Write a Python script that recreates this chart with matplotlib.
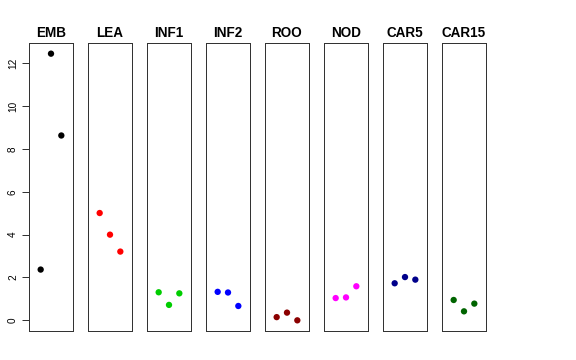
import matplotlib
matplotlib.use("Agg")
import matplotlib.pyplot as plt

plt.rcParams['font.family'] = ['Liberation Sans', 'DejaVu Sans']

groups = ['EMB', 'LEA', 'INF1', 'INF2', 'ROO', 'NOD', 'CAR5', 'CAR15']
colors = ['black', 'red', '#00CD00', 'blue', '#8B0000', '#FF00FF', '#00008B', '#006400']
values = {
    'EMB':   [2.37, 12.45, 8.63],
    'LEA':   [5.01, 4.00, 3.21],
    'INF1':  [1.31, 0.72, 1.26],
    'INF2':  [1.33, 1.30, 0.67],
    'ROO':   [0.15, 0.36, 0.0],
    'NOD':   [1.04, 1.07, 1.59],
    'CAR5':  [1.73, 2.02, 1.90],
    'CAR15': [0.95, 0.42, 0.78],
}
yticks = [0, 2, 4, 6, 8, 10, 12]

W, H = 576, 360
fig = plt.figure(figsize=(W / 72, H / 72), dpi=72)

all_vals = [v for g in groups for v in values[g]]
lo, hi = min(all_vals), max(all_vals)
pad = 0.04 * (hi - lo)

left0, step, pw = 29, 59, 44
top, bottom = 43, 331
for i, (g, c) in enumerate(zip(groups, colors)):
    x0 = left0 + i * step
    ax = fig.add_axes([x0 / W, 1 - bottom / H, pw / W, (bottom - top) / H])
    ax.scatter([1, 2, 3], values[g], s=40, color=c, edgecolors='none', zorder=3)
    ax.set_xlim(2 - 2.13, 2 + 2.13)
    ax.set_ylim(lo - pad, hi + pad)
    ax.set_xticks([])
    for sp in ax.spines.values():
        sp.set_color('#333333')
        sp.set_linewidth(1)
    ax.set_title(g, fontsize=13.5, fontweight='bold', pad=6)
    if i == 0:
        ax.set_yticks(yticks)
        ax.tick_params(axis='y', length=7, width=0.8, labelsize=10, pad=4)
        for lab in ax.get_yticklabels():
            lab.set_rotation(90)
            lab.set_va('center')
    else:
        ax.set_yticks([])

fig.savefig('out.png', dpi=72)
